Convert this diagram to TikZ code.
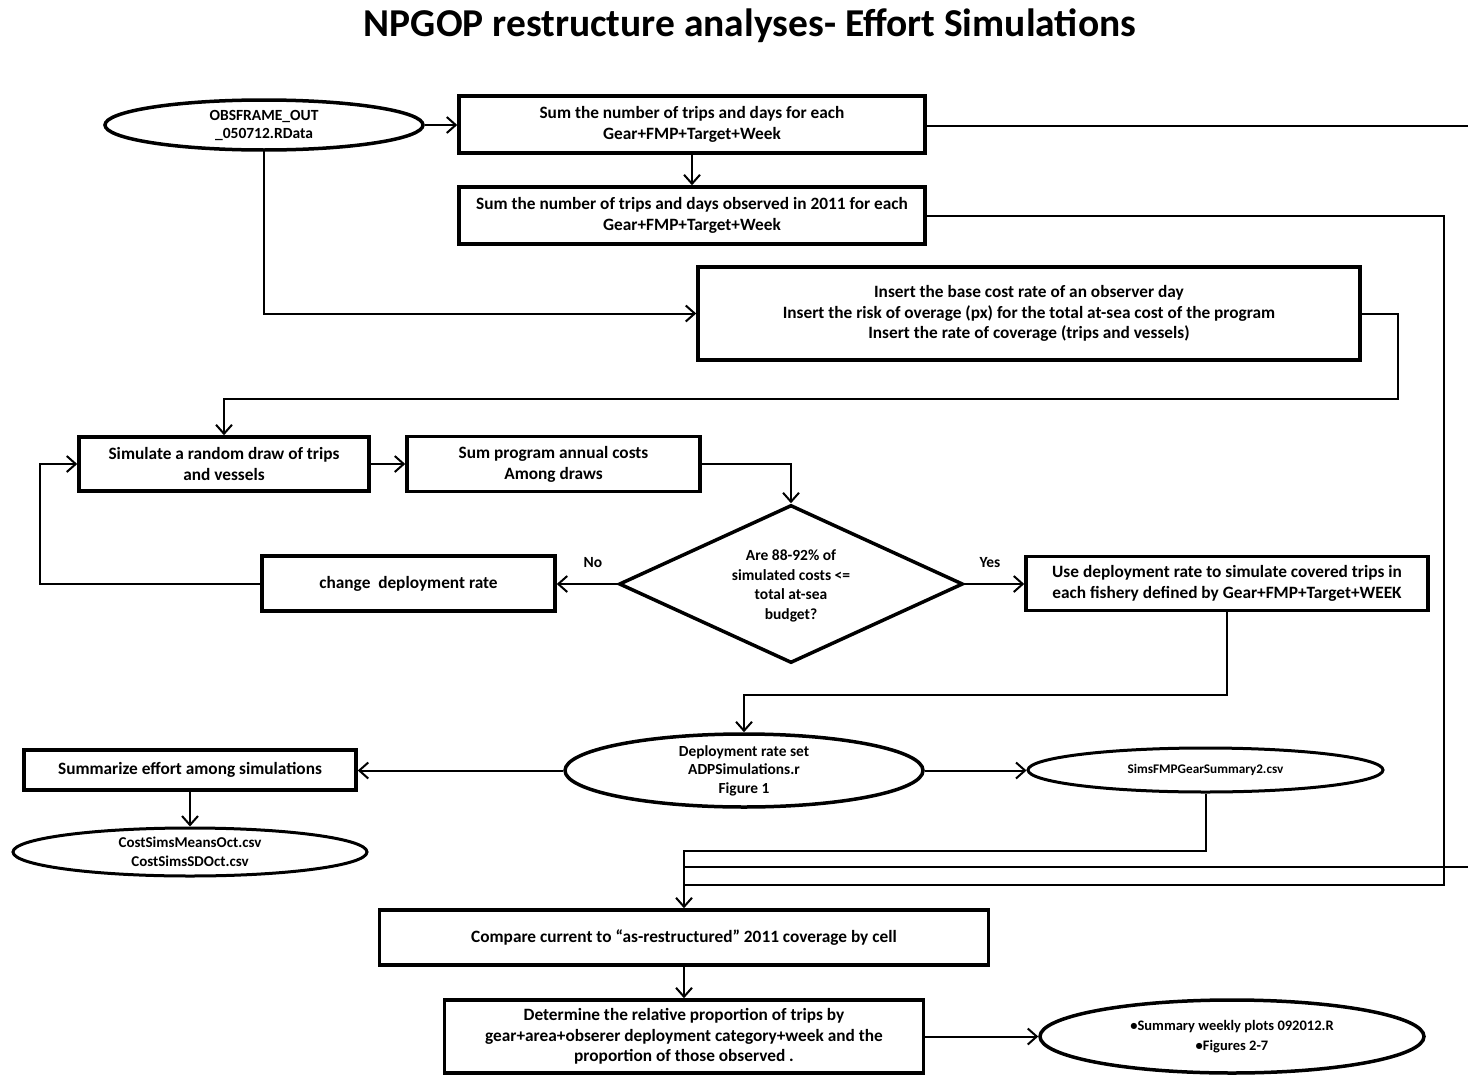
\documentclass[tikz,border=0pt]{standalone}
\usepackage{fontspec}
\setmainfont{Carlito}
\usetikzlibrary{arrows.meta,shapes.geometric}
\begin{document}
\begin{tikzpicture}[x=1pt,y=-1pt,
  box/.style={draw,line width=3.5pt,rectangle,inner sep=0pt,align=center,font=\bfseries\fontsize{17.3}{21}\selectfont},
  oval/.style={draw,line width=3.5pt,ellipse,inner sep=0pt},
  otext/.style={align=center,font=\bfseries\fontsize{15}{18.5}\selectfont},
  conn/.style={line width=2pt},
  arr/.style={conn,-{Straight Barb[length=9pt,width=16pt]}},
  lab/.style={font=\bfseries\fontsize{15.5}{19}\selectfont}]
\useasboundingbox (0,0) rectangle (1468,1076);
\node[font=\bfseries\fontsize{39.5}{44}\selectfont] (title) at (750,26) {NPGOP restructure analyses- Effort Simulations};

\node[box,minimum width=466,minimum height=57] (b1) at (692,124.5) {Sum the number of trips and days for each\\Gear+FMP+Target+Week};
\node[box,minimum width=466,minimum height=57] (b2) at (692,215.5) {Sum the number of trips and days observed in 2011 for each\\Gear+FMP+Target+Week};
\node[box,minimum width=662,minimum height=93,font=\bfseries\fontsize{17.3}{20.5}\selectfont] (b3) at (1029,313.5) {Insert the base cost rate of an observer day\\Insert the risk of overage (px) for the total at-sea cost of the program\\Insert the rate of coverage (trips and vessels)};
\node[box,minimum width=290,minimum height=54] (sim) at (224,464) {Simulate a random draw of trips\\and vessels};
\node[box,minimum width=293,minimum height=55] (sump) at (553.5,464) {Sum program annual costs\\Among draws};
\node[box,minimum width=293,minimum height=55] (chg) at (408.5,583.5) {change\ \ deployment rate};
\node[box,minimum width=402,minimum height=54] (use) at (1227,583.5) {Use deployment rate to simulate covered trips in\\each fishery defined by Gear+FMP+Target+WEEK};
\node[draw,line width=3.5pt,diamond,inner sep=0pt,minimum width=344,minimum height=158] (dia) at (791,584) {};
\node[lab,align=center,font=\bfseries\fontsize{15.5}{19.5}\selectfont] (diat) at (791,586) {Are 88-92\% of\\simulated costs <=\\total at-sea\\budget?};

\node[oval,minimum width=318,minimum height=50,label={[otext,font=\bfseries\fontsize{15.5}{18}\selectfont]center:OBSFRAME\_OUT\\\_050712.RData}] (e1) at (264,125) {};
\node[oval,minimum width=358,minimum height=73,label={[otext,font=\bfseries\fontsize{15.4}{18.5}\selectfont]center:Deployment rate set\\ADPSimulations.r\\Figure 1}] (dep) at (744,770.5) {};
\node[oval,minimum width=355,minimum height=44,line width=3pt,label={[otext,font=\bfseries\fontsize{13.2}{18}\selectfont]center:SimsFMPGearSummary2.csv}] (sims) at (1205.5,770) {};
\node[box,minimum width=332,minimum height=40] (summ) at (190,770) {Summarize effort among simulations};
\node[oval,minimum width=354,minimum height=48,line width=3pt,label={[otext,font=\bfseries\fontsize{15}{19}\selectfont]center:CostSimsMeansOct.csv\\CostSimsSDOct.csv}] (cost) at (190,852) {};
\node[box,minimum width=609,minimum height=55] (cmp) at (684,937.5) {Compare current to “as-restructured” 2011 coverage by cell};
\node[box,minimum width=479,minimum height=73,font=\bfseries\fontsize{17.3}{20.5}\selectfont] (det) at (684,1036.5) {Determine the relative proportion of trips by\\gear+area+obserer deployment category+week and the\\proportion of those observed .};
\node[oval,minimum width=384,minimum height=73,label={[otext,font=\bfseries\fontsize{14.5}{20}\selectfont]center:•Summary weekly plots 092012.R\\•Figures 2-7}] (fin) at (1232,1036.5) {};

\coordinate (r1) at (1468,126);
\coordinate (r2) at (1468,867);
\coordinate (j) at (684,851);

% connectors
\draw[arr] (e1.east) -- (e1.east -| b1.west);
\draw[conn] (b1.east |- r1) -- (r1);
\draw[arr] (b1.south) -- (b2.north);
\draw[conn] (b2.east) -| (1444,885) -- (684,885);
\draw[conn] (r2) -- (684,867);
\draw[arr] (sims.south) |- (j) -- (cmp.north);
\draw[arr] (e1.south) |- (b3.west);
\draw[arr] (b3.east) -| (1398,399) -| (sim.north);
\draw[arr] (sim.east) -- (sump.west);
\draw[arr] (sump.east) -| (dia.north);
\draw[arr] (dia.west) -- (dia.west -| chg.east);
\node[lab] (no) at (593,563) {No};
\draw[arr] (chg.west) -- (40,583.5) |- (sim.west);
\draw[arr] (dia.east) -- (dia.east -| use.west);
\node[lab] (yes) at (990,563) {Yes};
\draw[arr] (use.south) -- ++(0,83) -| (dep.north);
\draw[arr] (dep.west) -- (dep.west -| summ.east);
\draw[arr] (dep.east) -- (dep.east -| sims.west);
\draw[arr] (summ.south) -- (cost.north);
\draw[arr] (cmp.south) -- (det.north);
\draw[arr] (det.east) -- (det.east -| fin.west);
\end{tikzpicture}
\end{document}
